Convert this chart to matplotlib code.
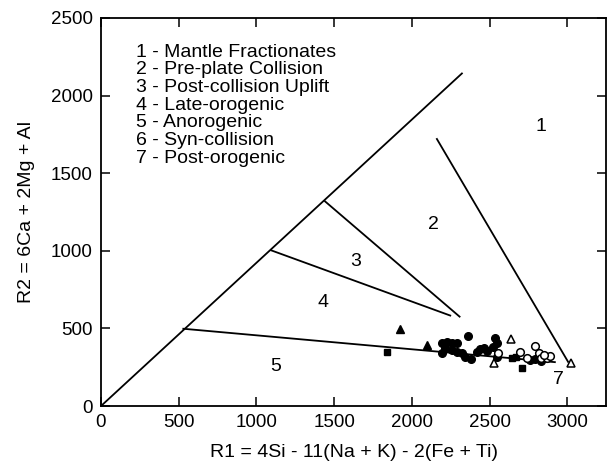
import numpy as np
import matplotlib
matplotlib.use("Agg")
import matplotlib.pyplot as plt

plt.rcParams['font.family'] = ['Liberation Sans', 'DejaVu Sans']

# --- Limites des champs (R1, R2) ---
diag_x = [0, 2322]
diag_y = [0, 2142]
mantle_x = [2161, 3005]
mantle_y = [1720, 285]
anoro_x = [530, 2920]
anoro_y = [498, 283]
late_x = [1095, 2247]
late_y = [1003, 583]
post_x = [1442, 2307]
post_y = [1318, 576]

# --- Echantillons ---
tri_f_x = [1925, 2099]
tri_f_y = [496, 393]
sq_f_x = [1842, 2645, 2672, 2711]
sq_f_y = [348, 307, 314, 245]
circ_f_x = [2194, 2226, 2258, 2290, 2215, 2258, 2194, 2290, 2323, 2363, 2344, 2382,
            2419, 2440, 2466, 2485, 2537, 2548, 2524, 2548, 2795, 2833, 2762]
circ_f_y = [408, 410, 408, 404, 373, 361, 339, 350, 339, 451, 317, 303,
            350, 367, 373, 354, 438, 404, 380, 317, 301, 290, 296]
circ_o_x = [2554, 2698, 2741, 2795, 2816, 2833, 2870, 2891, 2853]
circ_o_y = [339, 346, 311, 386, 339, 307, 311, 322, 328]
tri_o_x = [2638, 2526, 3026]
tri_o_y = [431, 275, 280]

legend_lines = ["1 - Mantle Fractionates", "2 - Pre-plate Collision",
                "3 - Post-collision Uplift", "4 - Late-orogenic",
                "5 - Anorogenic", "6 - Syn-collision", "7 - Post-orogenic"]
field_labels = ["1", "2", "3", "4", "5", "7"]
field_x = [2833, 2138, 1636, 1430, 1127, 2943]
field_y = [1800, 1168, 929, 665, 258, 168]

fig = plt.figure(figsize=(6.08, 4.70), dpi=100)
ax = fig.add_axes([0.166, 0.136, 0.831, 0.826])

for xs, ys in [(diag_x, diag_y), (mantle_x, mantle_y), (anoro_x, anoro_y),
               (late_x, late_y), (post_x, post_y)]:
    ax.plot(xs, ys, color='black', lw=1.3)

ms = 5.5
ax.plot(tri_f_x, tri_f_y, '^', color='black', ms=ms + 0.5, ls='none')
ax.plot(sq_f_x, sq_f_y, 's', color='black', ms=ms - 0.5, ls='none')
ax.plot(circ_f_x, circ_f_y, 'o', color='black', ms=ms, ls='none')
ax.plot(circ_o_x, circ_o_y, 'o', mfc='white', mec='black', mew=1.1, ms=ms, ls='none')
ax.plot(tri_o_x, tri_o_y, '^', mfc='white', mec='black', mew=1.1, ms=ms + 0.5, ls='none')

for lab, x, y in zip(field_labels, field_x, field_y):
    ax.text(x, y, lab, fontsize=14, ha='center', va='center')

for i, line in enumerate(legend_lines):
    ax.text(0.07, 0.912 - i * 0.0455, line, transform=ax.transAxes,
            fontsize=14, ha='left', va='center')

ax.set_xlim(0, 3250)
ax.set_ylim(0, 2500)
ax.set_xticks(np.arange(0, 3001, 500))
ax.set_yticks(np.arange(0, 2501, 500))
ax.tick_params(direction='in', length=6.5, width=1.1, top=True, right=True,
               labelsize=13.5, pad=6)
for sp in ax.spines.values():
    sp.set_linewidth(1.3)

ax.set_xlabel("R1 = 4Si - 11(Na + K) - 2(Fe + Ti)", fontsize=14, labelpad=9)
ax.set_ylabel("R2 = 6Ca + 2Mg + Al", fontsize=14, labelpad=11)

fig.savefig("out.png", dpi=100)
